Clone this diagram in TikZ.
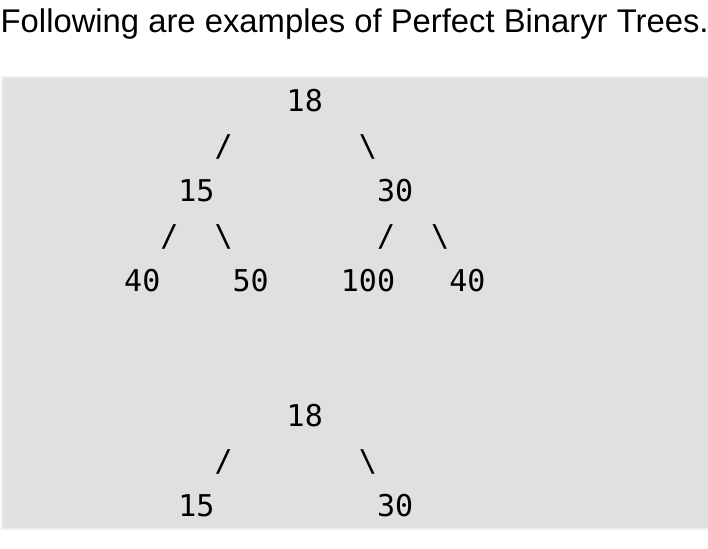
\documentclass[tikz,border=0pt]{standalone}
\usepackage{fontspec}
\setmainfont{Liberation Sans}
\newfontfamily\treefont{DejaVu Sans Mono}
\usetikzlibrary{positioning}
\definecolor{boxfill}{HTML}{E0E0E0}
\definecolor{boxrim}{HTML}{EEEEEE}

\begin{document}
\begin{tikzpicture}[x=1bp, y=-1bp,
    h/.style={anchor=base west, inner sep=0pt, font=\fontsize{32.8bp}{40bp}\selectfont},
    t/.style={anchor=base west, inner sep=0pt, font=\treefont\fontsize{30bp}{36bp}\selectfont}]
    \useasboundingbox (0,0) rectangle (708,549);
    \node [h] (title) at (0.5,32.5) {Following are examples of Perfect Binaryr Trees.};
    \fill [boxrim] (1,76) rectangle (712,530);
    \fill [boxfill] (3,78) rectangle (712,528);
    % first tree
    \begin{scope}[shift={(124bp,-111.5bp)}, x=18.06bp, y=-45bp]
    \node [t] (a) at (9,0) {18};
    \node [t] (ab) at (5,1) {/};
    \node [t] (ac) at (13,1) {\textbackslash};
    \node [t] (b) at (3,2) {15};
    \node [t] (c) at (14,2) {30};
    \node [t] (bd) at (2,3) {/};
    \node [t] (be) at (5,3) {\textbackslash};
    \node [t] (cf) at (14,3) {/};
    \node [t] (cg) at (17,3) {\textbackslash};
    \node [t] (d) at (0,4) {40};
    \node [t] (e) at (6,4) {50};
    \node [t] (f) at (12,4) {100};
    \node [t] (g) at (18,4) {40};
    \end{scope}
    % second tree
    \begin{scope}[shift={(124bp,-426.5bp)}, x=18.06bp, y=-45bp]
    \node [t] (p) at (9,0) {18};
    \node [t] (pq) at (5,1) {/};
    \node [t] (pr) at (13,1) {\textbackslash};
    \node [t] (q) at (3,2) {15};
    \node [t] (r) at (14,2) {30};
    \end{scope}
\end{tikzpicture}
\end{document}
